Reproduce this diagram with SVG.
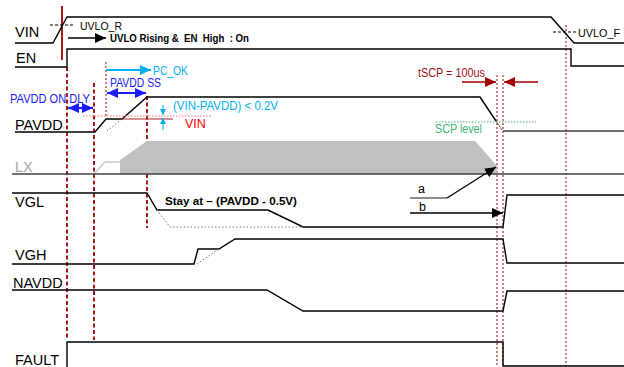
<svg xmlns="http://www.w3.org/2000/svg" width="624" height="367" viewBox="0 0 624 367">
<style>
.lbl{font-family:"Liberation Sans",Arial,sans-serif;font-size:14.5px;fill:#000}
.sig{fill:none;stroke:#000;stroke-width:1.4}
.sigg{fill:none;stroke:#404040;stroke-width:1.4}
.dot{fill:none;stroke:#777;stroke-width:1;stroke-dasharray:1.5 2}
.t{font-family:"Liberation Sans",Arial,sans-serif}
.vd{stroke:#a00000;stroke-width:1.8;stroke-dasharray:4 2.5;fill:none}
.vt{stroke:#a00000;stroke-width:1;stroke-dasharray:2 2;fill:none}
</style>
<defs>
<marker id="ak" markerUnits="userSpaceOnUse" markerWidth="12" markerHeight="10" refX="11" refY="5" orient="auto"><path d="M0,0 L11,5 L0,10 z" fill="#000"/></marker>
<marker id="ab" markerUnits="userSpaceOnUse" markerWidth="12" markerHeight="10" refX="11" refY="5" orient="auto-start-reverse"><path d="M0,0 L11,5 L0,10 z" fill="#1a1aff"/></marker>
<marker id="ac" markerUnits="userSpaceOnUse" markerWidth="12" markerHeight="10" refX="11" refY="5" orient="auto"><path d="M0,0 L11,5 L0,10 z" fill="#00b0f0"/></marker>
<marker id="acs" markerUnits="userSpaceOnUse" markerWidth="8" markerHeight="8" refX="6" refY="3" orient="auto"><path d="M0,0 L6,3 L0,6 z" fill="#00b0f0"/></marker>
<marker id="ar" markerUnits="userSpaceOnUse" markerWidth="12" markerHeight="10" refX="11" refY="5" orient="auto"><path d="M0,0 L11,5 L0,10 z" fill="#a00000"/></marker>
</defs>

<g id="guides">
<line x1="62" y1="6" x2="62" y2="60" stroke="#a00000" stroke-width="1.8"/>
<line class="vd" x1="67" y1="67" x2="67" y2="340"/>
<line class="vd" x1="94" y1="83" x2="94" y2="340"/>
<line class="vt" x1="106" y1="62" x2="106" y2="118"/>
<line class="vd" x1="147" y1="96" x2="147" y2="228"/>
<line class="vt" x1="497" y1="75" x2="497" y2="366"/>
<line class="vt" x1="503" y1="75" x2="503" y2="366" stroke="#c04040"/>
<line class="vt" x1="566" y1="25" x2="566" y2="366"/>
</g>

<g id="VIN">
<text class="lbl" x="15" y="37">VIN</text>
<polyline class="sig" points="15,43 53,43 67,17 551,17 574,43 624,43"/>
<line x1="50" y1="25" x2="73" y2="25" stroke="#000" stroke-width="1" stroke-dasharray="3 2"/>
<text class="t" x="80" y="30" font-size="11" textLength="42" lengthAdjust="spacingAndGlyphs">UVLO_R</text>
<line x1="553" y1="32" x2="576" y2="32" stroke="#000" stroke-width="1" stroke-dasharray="3 2"/>
<text class="t" x="578" y="37" font-size="11" textLength="42" lengthAdjust="spacingAndGlyphs">UVLO_F</text>
</g>

<g id="EN">
<text class="lbl" x="16" y="63">EN</text>
<polyline class="sig" points="15,67 67,67 67,49 571,49 571,66 624,66"/>
<line x1="68" y1="38" x2="106" y2="38" stroke="#000" stroke-width="1.6" marker-end="url(#ak)"/>
<text class="t" x="110" y="42" font-size="10" font-weight="bold" xml:space="preserve" style="white-space:pre" textLength="139" lengthAdjust="spacingAndGlyphs">UVLO Rising &amp;  EN  High  : On</text>
</g>

<g id="PAVDD">
<text class="lbl" x="15" y="130">PAVDD</text>
<polyline class="sig" points="15,132 95,132 106,119 122,119 147,97 480,97 496,121"/>
<line class="dot" x1="107" y1="131" x2="122" y2="119"/>
<line x1="496" y1="121" x2="502" y2="130" stroke="#000" stroke-width="1" stroke-dasharray="1.5 1.5"/>
<polyline class="sigg" points="503,131 624,131"/>
<line x1="83" y1="116" x2="212" y2="116" stroke="#ff7070" stroke-width="1.2" stroke-dasharray="1.5 1.5"/>
<line x1="122" y1="119" x2="173" y2="119" stroke="#b02020" stroke-width="1.2"/>
<text class="t" x="185" y="128" font-size="12.5" fill="#ff0000">VIN</text>
<line x1="163" y1="105" x2="163" y2="115" stroke="#00b0f0" stroke-width="1" marker-end="url(#acs)"/>
<line x1="163" y1="130" x2="163" y2="118" stroke="#00b0f0" stroke-width="1" marker-end="url(#acs)"/>
<text class="t" x="173" y="110" font-size="12.5" fill="#00b0f0" textLength="105" lengthAdjust="spacingAndGlyphs">(VIN-PAVDD) &lt; 0.2V</text>
<line x1="106" y1="70" x2="151" y2="70" stroke="#00b0f0" stroke-width="2" marker-end="url(#ac)"/>
<text class="t" x="153" y="75" font-size="12.5" fill="#00b0f0" textLength="35" lengthAdjust="spacingAndGlyphs">PC_OK</text>
<text class="t" x="110" y="87" font-size="12.5" fill="#1a1aff" textLength="51" lengthAdjust="spacingAndGlyphs">PAVDD SS</text>
<line x1="107" y1="93" x2="146" y2="93" stroke="#1a1aff" stroke-width="2.2" marker-start="url(#ab)" marker-end="url(#ab)"/>
<text class="t" x="10" y="103" font-size="12.5" fill="#1a1aff" textLength="80" lengthAdjust="spacingAndGlyphs">PAVDD ON DLY</text>
<line x1="68" y1="108" x2="93" y2="108" stroke="#1a1aff" stroke-width="2.2" marker-start="url(#ab)" marker-end="url(#ab)"/>
<line x1="436" y1="122" x2="536" y2="122" stroke="#3cb371" stroke-width="1.2" stroke-dasharray="1.5 1.5"/>
<text class="t" x="435" y="133" font-size="12.5" fill="#3cb371" textLength="47" lengthAdjust="spacingAndGlyphs">SCP level</text>
<text class="t" x="418" y="77" font-size="12.5" fill="#a01010" textLength="67" lengthAdjust="spacingAndGlyphs">tSCP = 100us</text>
<line x1="462" y1="82" x2="496" y2="82" stroke="#a00000" stroke-width="1.3" marker-end="url(#ar)"/>
<line x1="538" y1="82" x2="504" y2="82" stroke="#a00000" stroke-width="1.3" marker-end="url(#ar)"/>
</g>

<g id="LX">
<text class="lbl" x="15" y="172" style="fill:#a6a6a6">LX</text>
<polygon points="120,174 120,160 147,141 475,141 497,166 497,174" fill="#c0c0c0"/>
<polyline points="94,174 105,162 120,162" fill="none" stroke="#c8c8c8" stroke-width="1.4"/>
<line class="sigg" x1="12" y1="174" x2="624" y2="174"/>
</g>

<g id="VGL">
<text class="lbl" x="15" y="207">VGL</text>
<polyline class="sig" points="12,193 147,193 157,210 268,210 303,227 503,227 507,195 624,195"/>
<polyline class="dot" points="157,210 170,227 303,227" stroke="#555"/>
<text class="t" x="165" y="205" font-size="11.5" font-weight="bold" textLength="132" lengthAdjust="spacingAndGlyphs">Stay at – (PAVDD - 0.5V)</text>
</g>

<g id="VGH">
<text class="lbl" x="15" y="260">VGH</text>
<polyline class="sig" points="12,264 194,264 198,249 219,249 235,239 503,239 507,263 624,263"/>
<line class="dot" x1="197" y1="264" x2="219" y2="249"/>
</g>

<g id="NAVDD">
<text class="lbl" x="13" y="288">NAVDD</text>
<polyline class="sig" points="12,290 267,290 303,311 503,311 507,291 624,291"/>
</g>

<g id="FAULT">
<text class="lbl" x="15" y="365">FAULT</text>
<polyline class="sig" points="67,367 67,342 503,342 503,366 624,366"/>
</g>

<g id="connectors">
<text class="t" x="418" y="193" font-size="12.5">a</text>
<line x1="410" y1="198" x2="447" y2="198" stroke="#666" stroke-width="1.3"/>
<line x1="447" y1="198" x2="496" y2="167" stroke="#000" stroke-width="1.3" marker-end="url(#ak)"/>
<text class="t" x="419" y="211" font-size="12.5">b</text>
<line x1="410" y1="213" x2="503" y2="213" stroke="#000" stroke-width="1.3" marker-end="url(#ak)"/>
</g>
</svg>
